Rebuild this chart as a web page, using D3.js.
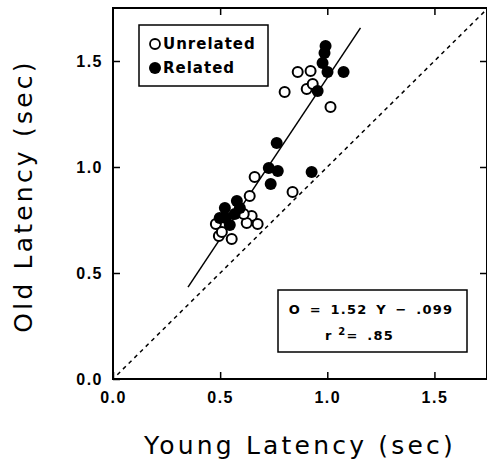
<!DOCTYPE html>
<meta charset='utf-8'>
<head>
    <title>Old vs Young Latency</title>
    <script src='https://cdn.jsdelivr.net/npm/d3@7'></script>
</head>

<style>
    body { margin: 0; background: white; }
    svg { display: block; font-family: 'DejaVu Sans', sans-serif; }
    .tick line { stroke: black; stroke-width: 1.5px; }
    .tick text { font-size: 16px; font-weight: bold; fill: black; letter-spacing: 1.5px; }
    .frame { fill: none; stroke: black; stroke-width: 2px; }
    .box { fill: white; stroke: black; stroke-width: 1.5px; }
</style>

<svg></svg>

<script>
    var vWidth = 487;
    var vHeight = 471;

    // readings: [young, old] latency in sec
    var unrelated = [
        [0.480, 0.731], [0.494, 0.675], [0.508, 0.693], [0.554, 0.660],
        [0.647, 0.769], [0.675, 0.731], [0.624, 0.736], [0.610, 0.778],
        [0.638, 0.863], [0.661, 0.953], [0.838, 0.882], [0.801, 1.354],
        [0.862, 1.448], [0.922, 1.453], [0.904, 1.368], [0.932, 1.392],
        [1.015, 1.283]
    ];
    var related = [
        [0.992, 1.571], [0.987, 1.538], [0.978, 1.491], [1.001, 1.448],
        [1.076, 1.448], [0.955, 1.358], [0.764, 1.113], [0.727, 0.995],
        [0.769, 0.981], [0.736, 0.920], [0.927, 0.976], [0.578, 0.840],
        [0.522, 0.807], [0.568, 0.778], [0.498, 0.759], [0.545, 0.726],
        [0.526, 0.759], [0.592, 0.807]
    ];
    var tickValues = [0, 0.5, 1.0, 1.5];
    var fitSlope = 1.52;
    var fitIntercept = -0.099;
    var fitRange = [0.35, 1.155];
    var legendLabels = ['Unrelated', 'Related'];
    var fitText = 'O = 1.52 Y \u2212 .099';

    var svg = d3.select('svg').attr('width', vWidth).attr('height', vHeight);

    var x = d3.scaleLinear().domain([0, 1.75]).range([113, 488]);
    var y = d3.scaleLinear().domain([0, 1.75]).range([379, 8]);
    var fmt = d3.format('.1f');

    // axes, ticks pointing inward
    svg.append('g').attr('transform', 'translate(0,' + y(0) + ')')
        .call(d3.axisBottom(x).tickValues(tickValues).tickFormat(fmt).tickSize(-7).tickPadding(13))
        .call(function (g) { g.select('.domain').remove(); });
    svg.append('g').attr('transform', 'translate(' + x(0) + ',0)')
        .call(d3.axisLeft(y).tickValues(tickValues).tickFormat(fmt).tickSize(-7).tickPadding(10))
        .call(function (g) { g.select('.domain').remove(); });
    svg.append('g').attr('transform', 'translate(0,' + y(1.75) + ')')
        .call(d3.axisTop(x).tickValues(tickValues.slice(1)).tickFormat('').tickSize(-7))
        .call(function (g) { g.select('.domain').remove(); });
    svg.append('g').attr('transform', 'translate(' + (x(1.75) - 1) + ',0)')
        .call(d3.axisRight(y).tickValues(tickValues.slice(1)).tickFormat('').tickSize(-7))
        .call(function (g) { g.select('.domain').remove(); });

    svg.append('rect').attr('class', 'frame')
        .attr('x', x(0)).attr('y', y(1.75))
        .attr('width', x(1.75) - x(0) - 1).attr('height', y(0) - y(1.75));

    // identity line
    svg.append('line')
        .attr('x1', x(0.02)).attr('y1', y(0.02)).attr('x2', x(1.75)).attr('y2', y(1.75))
        .attr('stroke', 'black').attr('stroke-width', 1.5).attr('stroke-dasharray', '4,4');

    // regression line
    svg.append('line')
        .attr('x1', x(fitRange[0])).attr('y1', y(fitSlope * fitRange[0] + fitIntercept))
        .attr('x2', x(fitRange[1])).attr('y2', y(fitSlope * fitRange[1] + fitIntercept))
        .attr('stroke', 'black').attr('stroke-width', 1.5);

    // points
    svg.append('g').selectAll('circle').data(unrelated).enter().append('circle')
        .attr('cx', function (d) { return x(d[0]); })
        .attr('cy', function (d) { return y(d[1]); })
        .attr('r', 5).attr('fill', 'white').attr('stroke', 'black').attr('stroke-width', 2);
    svg.append('g').selectAll('circle').data(related).enter().append('circle')
        .attr('cx', function (d) { return x(d[0]); })
        .attr('cy', function (d) { return y(d[1]); })
        .attr('r', 6).attr('fill', 'black');

    // legend
    var lg = svg.append('g');
    lg.append('rect').attr('class', 'box').attr('x', 139).attr('y', 25).attr('width', 129).attr('height', 61);
    lg.append('circle').attr('cx', 155).attr('cy', 44).attr('r', 5)
        .attr('fill', 'white').attr('stroke', 'black').attr('stroke-width', 1.8);
    lg.append('circle').attr('cx', 155).attr('cy', 68).attr('r', 6).attr('fill', 'black');
    lg.selectAll('text').data(legendLabels).enter().append('text')
        .attr('x', 163).attr('y', function (d, i) { return 49 + i * 24; })
        .attr('font-size', 15).attr('font-weight', 600).attr('letter-spacing', 1)
        .text(function (d) { return d; });

    // fit equation box
    var eq = svg.append('g');
    eq.append('rect').attr('class', 'box').attr('x', 278).attr('y', 290).attr('width', 189).attr('height', 62);
    eq.append('text').attr('x', 371).attr('y', 314).attr('text-anchor', 'middle')
        .attr('font-size', 13).attr('font-weight', 'bold').attr('letter-spacing', 1.2).attr('word-spacing', 3)
        .text(fitText);
    var r2 = eq.append('text').attr('x', 325).attr('y', 340)
        .attr('font-size', 13).attr('font-weight', 'bold').attr('letter-spacing', 1.2);
    r2.append('tspan').text('r ');
    r2.append('tspan').attr('dy', -5).attr('font-size', 10).text('2');
    r2.append('tspan').attr('dy', 5).attr('word-spacing', 3).text('= .85');

    // axis titles
    svg.append('text').attr('x', 300).attr('y', 454).attr('text-anchor', 'middle')
        .attr('font-size', 25).attr('letter-spacing', 3.2)
        .text('Young Latency (sec)');
    svg.append('text').attr('transform', 'translate(32,196) rotate(-90)').attr('text-anchor', 'middle')
        .attr('font-size', 25).attr('letter-spacing', 3.2)
        .text('Old Latency (sec)');
</script>
